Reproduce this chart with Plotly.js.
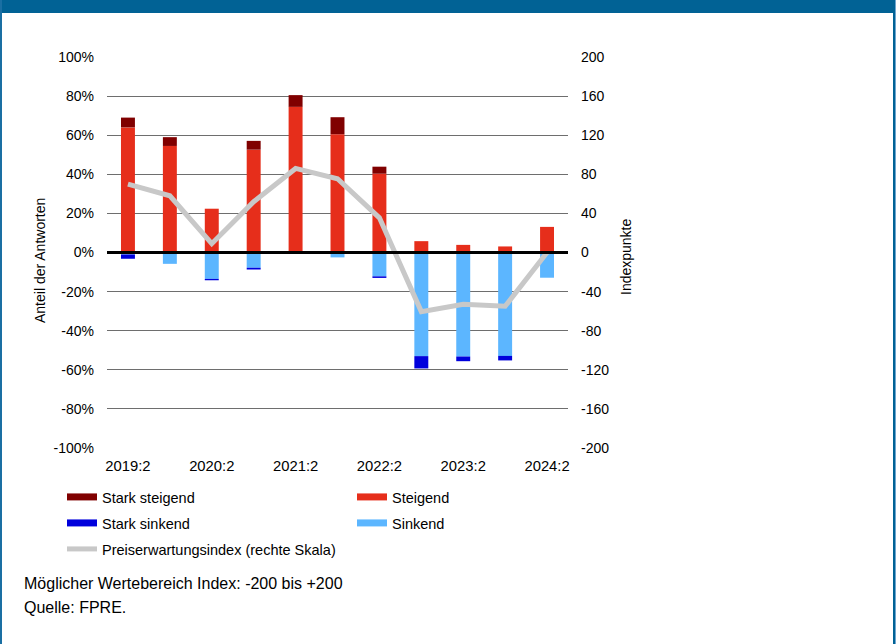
<!DOCTYPE html>
<html>
<head>
<meta charset="utf-8">
<script src="https://cdn.plot.ly/plotly-3.0.1.min.js"></script>
<style>
  html, body { margin: 0; padding: 0; background: #ffffff; }
  #wrap { position: relative; width: 896px; height: 644px; overflow: hidden; }
  #chart { position: absolute; left: 0; top: 0; width: 896px; height: 644px; }
  .frame { position: absolute; pointer-events: none; }
  #topbar { left: 0; top: 0; width: 896px; height: 13px; background: #016295; }
  #leftedge { left: 0; top: 0; width: 2px; height: 644px; background: #1a6fa3; }
  #rightedge { left: 893px; top: 0; width: 2px; height: 644px; background: #016295; }
  #rightedge2 { left: 895px; top: 0; width: 1px; height: 644px; background: #6fa6cf; }
</style>
</head>
<body>
<div id="wrap">
  <div id="chart"></div>
  <div class="frame" id="topbar"></div>
  <div class="frame" id="leftedge"></div>
  <div class="frame" id="rightedge"></div>
  <div class="frame" id="rightedge2"></div>
</div>
<script>
// Half-year survey periods
const categories = ["2019:2", "2020:1", "2020:2", "2021:1", "2021:2", "2022:1",
                    "2022:2", "2023:1", "2023:2", "2024:1", "2024:2"];
const tickLabels = ["2019:2", "2020:2", "2021:2", "2022:2", "2023:2", "2024:2"];

// Left scale (share of answers, %) and right scale (index points)
const leftTickVals = [-100, -80, -60, -40, -20, 0, 20, 40, 60, 80, 100];
const leftTickText = ["-100%", "-80%", "-60%", "-40%", "-20%", "0%", "20%", "40%", "60%", "80%", "100%"];
const rightTickVals = [-200, -160, -120, -80, -40, 0, 40, 80, 120, 160, 200];
const rightTickText = ["-200", "-160", "-120", "-80", "-40", "0", "40", "80", "120", "160", "200"];

// Share of answers in percent
const steigend      = [64.0, 54.5, 22.4, 52.6, 74.5, 60.5, 40.3, 5.8, 3.9, 3.1, 13.1];
const starkSteigend = [5.0, 4.5, 0, 4.5, 6.0, 8.7, 3.6, 0, 0, 0, 0];
const sinkend       = [-1.0, -5.8, -13.5, -7.8, 0, -2.5, -12.2, -53.0, -53.2, -52.9, -12.9];
const starkSinkend  = [-2.2, 0, -0.7, -0.9, 0, 0, -0.8, -6.3, -2.4, -2.3, 0];

// Price expectation index (right scale)
const preisIndex = [70, 58, 9, 52, 86, 75.5, 35.5, -60.5, -53, -55, 0];

const FONT = "'Liberation Sans', Arial, sans-serif";
const C_STARK_STEIG = "#800000";
const C_STEIG = "#e62e1b";
const C_STARK_SINK = "#0000dc";
const C_SINK = "#5cb6ff";
const C_INDEX = "#c8c8c8";

// plot area in pixels, used to place the free text
const PL = 107, PR = 568, PT = 57, PB = 448;
const px = (x) => (x - PL) / (PR - PL);
const py = (y) => (PB - y) / (PB - PT);

const barTrace = (y, color) => ({
  type: "bar", x: categories, y: y, yaxis: "y",
  marker: { color: color, line: { width: 0 } },
  showlegend: false, hoverinfo: "x+y"
});

// legend-only entries drawn as thick line swatches
const legendEntry = (name, color, width, legendId) => ({
  type: "scatter", mode: "lines", x: [null], y: [null],
  name: name, legend: legendId,
  line: { color: color, width: width }
});

const data = [
  barTrace(steigend, C_STEIG),
  barTrace(starkSteigend, C_STARK_STEIG),
  barTrace(sinkend, C_SINK),
  barTrace(starkSinkend, C_STARK_SINK),
  {
    type: "scatter", mode: "lines", x: categories, y: preisIndex, yaxis: "y2",
    line: { color: C_INDEX, width: 5 }, showlegend: false
  },
  legendEntry("Stark steigend", C_STARK_STEIG, 7, "legend"),
  legendEntry("Steigend", C_STEIG, 7, "legend2"),
  legendEntry("Stark sinkend", C_STARK_SINK, 7, "legend3"),
  legendEntry("Sinkend", C_SINK, 7, "legend4"),
  legendEntry("Preiserwartungsindex (rechte Skala)", C_INDEX, 5, "legend5")
];

const legendFont = { family: FONT, size: 14.5, color: "#000000" };
const mkLegend = (lx, ly) => ({
  xref: "container", yref: "container",
  x: lx / 896, y: 1 - ly / 644, xanchor: "left", yanchor: "top",
  bgcolor: "rgba(0,0,0,0)", borderwidth: 0, font: legendFont
});

const layout = {
  width: 896, height: 644,
  margin: { l: PL, r: 896 - PR, t: PT, b: 644 - PB, autoexpand: false },
  paper_bgcolor: "#ffffff", plot_bgcolor: "#ffffff",
  font: { family: FONT, size: 14, color: "#000000" },
  barmode: "relative", bargap: 0.667,
  xaxis: {
    type: "category", tickmode: "array", tickvals: tickLabels, ticktext: tickLabels,
    showgrid: false, showline: false, zeroline: false, ticks: "", tickangle: 0,
    ticklabelstandoff: 7,
    tickfont: { family: FONT, size: 14.8 }, automargin: false, fixedrange: true
  },
  yaxis: {
    range: [-100, 100], tickmode: "array", tickvals: leftTickVals, ticktext: leftTickText,
    showgrid: true, gridcolor: "#6e6e6e", gridwidth: 1,
    zeroline: false, showline: false, ticks: "", ticklabelstandoff: 12,
    tickfont: { family: FONT, size: 14 },
    automargin: false, fixedrange: true
  },
  yaxis2: {
    overlaying: "y", side: "right", range: [-200, 200],
    tickmode: "array", tickvals: rightTickVals, ticktext: rightTickText,
    showgrid: false, zeroline: false, showline: false, ticks: "", ticklabelstandoff: 12,
    tickfont: { family: FONT, size: 14 },
    automargin: false, fixedrange: true
  },
  shapes: [{
    type: "line", xref: "paper", yref: "y", x0: 0, x1: 1, y0: 0, y1: 0,
    line: { color: "#000000", width: 3 }, layer: "above"
  }],
  legend: mkLegend(62, 481),
  legend2: mkLegend(352, 481),
  legend3: mkLegend(62, 507),
  legend4: mkLegend(352, 507),
  legend5: mkLegend(62, 533),
  annotations: [
    {
      xref: "paper", yref: "paper", x: px(40), y: py(261), textangle: -90,
      xanchor: "center", yanchor: "middle", showarrow: false,
      text: "Anteil der Antworten",
      font: { family: FONT, size: 14, color: "#000000" }
    },
    {
      xref: "paper", yref: "paper", x: px(626), y: py(257), textangle: -90,
      xanchor: "center", yanchor: "middle", showarrow: false,
      text: "Indexpunkte",
      font: { family: FONT, size: 14, color: "#000000" }
    },
    {
      xref: "paper", yref: "paper", x: px(22), y: py(583),
      xanchor: "left", yanchor: "middle", showarrow: false,
      text: "Möglicher Wertebereich Index: -200 bis +200",
      font: { family: FONT, size: 16, color: "#000000" }
    },
    {
      xref: "paper", yref: "paper", x: px(22), y: py(607),
      xanchor: "left", yanchor: "middle", showarrow: false,
      text: "Quelle: FPRE.",
      font: { family: FONT, size: 16, color: "#000000" }
    }
  ]
};

Plotly.newPlot("chart", data, layout, { displayModeBar: false, staticPlot: true });
</script>
</body>
</html>
